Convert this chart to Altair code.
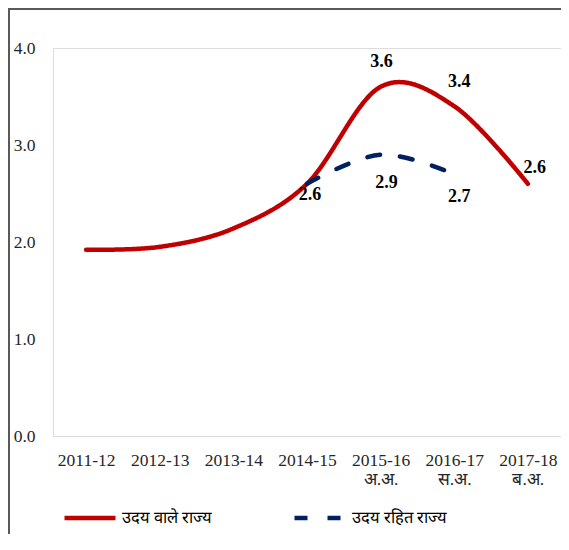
import altair as alt
import pandas as pd

# ---- data ----
years = ["2011-12", "2012-13", "2013-14", "2014-15", "2015-16", "2016-17", "2017-18"]
year_notes = ["", "", "", "", "अ.अ.", "स.अ.", "ब.अ."]
udai_values = [1.92, 1.95, 2.14, 2.6, 3.6, 3.4, 2.6]
non_udai_years = ["2014-15", "2015-16", "2016-17"]
non_udai_values = [2.6, 2.9, 2.7]
series_names = ["उदय वाले राज्य", "उदय रहित राज्य"]

udai_label_years = ["2015-16", "2016-17", "2017-18"]
non_udai_label_years = ["2014-15", "2015-16", "2016-17"]

# ---- tables ----
cat_of = {y: (y + "|" + n if n else y) for y, n in zip(years, year_notes)}
categories = [cat_of[y] for y in years]

red = pd.DataFrame({"cat": categories, "value": udai_values, "series": series_names[0]})
blue = pd.DataFrame({"cat": [cat_of[y] for y in non_udai_years],
                     "value": non_udai_values, "series": series_names[1]})

SERIF = "'Liberation Serif', 'Times New Roman', serif"
colors = ["#C00000", "#002060"]

x_enc = alt.X("cat:N", sort=categories,
              scale=alt.Scale(type="point", padding=0.45),
              axis=alt.Axis(title=None, labelExpr="split(datum.label, '|')",
                            labelAngle=0, labelFont=SERIF, labelFontSize=17.5,
                            labelColor="#262626", labelLineHeight=19,
                            labelPadding=15, ticks=False, domainColor="#D9D9D9",
                            domainWidth=1, grid=False))
y_enc = alt.Y("value:Q", scale=alt.Scale(domain=[0, 4], nice=False),
              axis=alt.Axis(title=None, values=[0, 1, 2, 3, 4], format=".1f",
                            labelFont=SERIF, labelFontSize=17.5, labelColor="#262626",
                            domain=False, ticks=False, grid=False, labelPadding=18))
color_enc = alt.Color("series:N",
                      scale=alt.Scale(domain=series_names, range=colors),
                      legend=alt.Legend(title=None, orient="none", direction="horizontal",
                                        legendX=9, legendY=442, symbolType="stroke",
                                        symbolSize=2600, symbolStrokeWidth=4.5,
                                        labelFont=SERIF, labelFontSize=16.5,
                                        labelColor="#000000",
                                        labelOffset=4, columnPadding=72))
dash_enc = alt.StrokeDash("series:N",
                          scale=alt.Scale(domain=series_names, range=[[1, 0], [13, 20]]),
                          legend=None)

line_red = alt.Chart(red).mark_line(strokeWidth=4.5, strokeCap="round",
                                    interpolate="cardinal").encode(
    x=x_enc, y=y_enc, color=color_enc, strokeDash=dash_enc)
line_blue = alt.Chart(blue).mark_line(strokeWidth=4.5, strokeCap="round",
                                      interpolate="cardinal").encode(
    x=x_enc, y=y_enc, color=color_enc, strokeDash=dash_enc)

# value labels, one small layer per label (offsets are styling only)
label_offsets = {
    (0, "2015-16"): (1, -25), (0, "2016-17"): (5, -24), (0, "2017-18"): (7, -16),
    (1, "2014-15"): (3, 11), (1, "2015-16"): (6, 28), (1, "2016-17"): (5, 23),
}
text_layers = []
for si, (df, yrs) in enumerate([(red, udai_label_years), (blue, non_udai_label_years)]):
    for yr in yrs:
        dx, dy = label_offsets[(si, yr)]
        sub = df[df["cat"] == cat_of[yr]]
        text_layers.append(
            alt.Chart(sub).mark_text(font=SERIF, fontSize=18, fontWeight="bold",
                                     color="black", dx=dx, dy=dy, baseline="middle").encode(
                x=x_enc, y=y_enc, text=alt.Text("value:Q", format=".1f")))

frame_src = pd.DataFrame({"k": [0]})
frame_left = alt.Chart(frame_src).mark_rule(color="#595959", strokeWidth=2).encode(
    x=alt.value(-44), y=alt.value(-40), y2=alt.value(600))
frame_top = alt.Chart(frame_src).mark_rule(color="#595959", strokeWidth=2).encode(
    y=alt.value(-39), x=alt.value(-45), x2=alt.value(700))

chart = alt.layer(frame_left, frame_top, line_red, line_blue, *text_layers).properties(
    width=508, height=388,
    autosize=alt.AutoSizeParams(type="none"),
    padding={"left": 45, "top": 40, "right": 0, "bottom": 98},
).configure_view(stroke=None).configure(background="white")

chart.save("out.html", embed_options={"renderer": "svg", "actions": False})
